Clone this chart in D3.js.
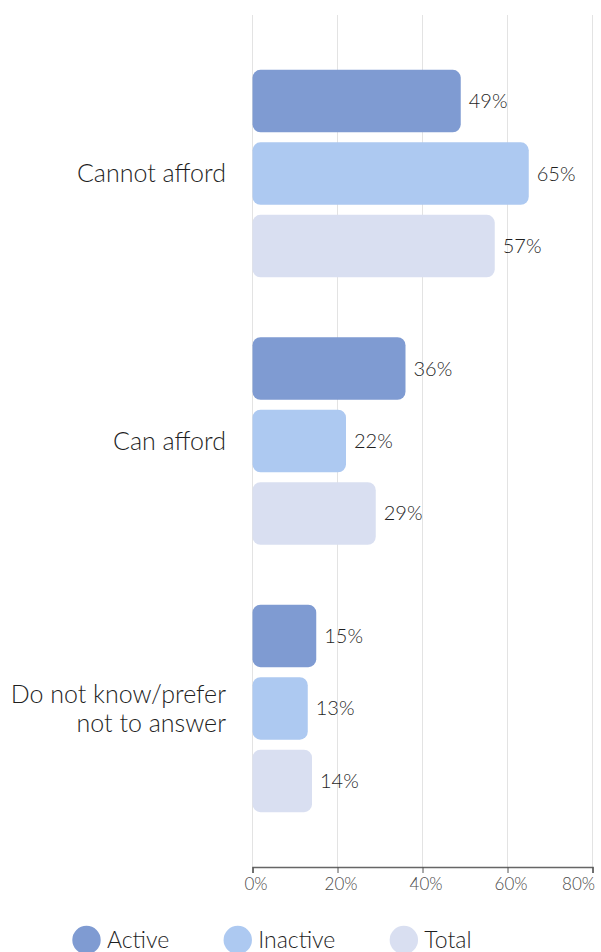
<!DOCTYPE html>
<html>
<head>
<meta charset="utf-8">
<script src="https://cdn.jsdelivr.net/npm/d3@7"></script>
<style>
  html, body { margin: 0; padding: 0; background: #ffffff; }
  svg { display: block; font-family: "Lato", "Open Sans", sans-serif; font-weight: 300; }
</style>
</head>
<body>
<svg id="chart" width="601" height="952"></svg>
<script>
// Affordability responses by activity status
const categories = ["Cannot afford", "Can afford", "Do not know/prefer not to answer"];
const categoryLines = [["Cannot afford"], ["Can afford"], ["Do not know/prefer", "not to answer"]];
const seriesNames = ["Active", "Inactive", "Total"];
const activeValues = [49, 36, 15];
const inactiveValues = [65, 22, 13];
const totalValues = [57, 29, 14];
const tickValues = [0, 20, 40, 60, 80];
const seriesColors = ["#7f9bd2", "#adc9f1", "#d9dff1"];

const seriesValues = [activeValues, inactiveValues, totalValues];
const rows = categories.map((c, i) => ({
  category: c,
  lines: categoryLines[i],
  values: seriesNames.map((s, j) => ({ series: s, value: seriesValues[j][i] }))
}));

const W = 601;
const textColor = "#1f1f1f";
const svg = d3.select("#chart");

const x = d3.scaleLinear().domain([0, 80]).range([252.5, 592.5]);
const y = d3.scaleBand().domain(categories).range([15, 867]).paddingInner(0.224).paddingOuter(0.205);
const yInner = d3.scaleBand().domain(seriesNames).range([0, y.bandwidth()]).paddingInner(0.137).paddingOuter(0);
const color = d3.scaleOrdinal().domain(seriesNames).range(seriesColors);

// vertical gridlines
svg.append("g")
  .selectAll("line")
  .data(tickValues)
  .join("line")
  .attr("x1", d => x(d)).attr("x2", d => x(d))
  .attr("y1", 15).attr("y2", 867)
  .attr("stroke", "#e3e3e3")
  .attr("stroke-width", 1);

// bottom axis
const axis = svg.append("g")
  .attr("transform", "translate(0,867)")
  .call(d3.axisBottom(x).tickValues(tickValues).tickFormat(d => d + "%").tickSize(6).tickPadding(5));
axis.select(".domain").attr("stroke", "#666").attr("stroke-width", 1.5);
axis.selectAll(".tick line").attr("stroke", "#555");
axis.selectAll(".tick text")
  .attr("fill", "#4a4a4a")
  .attr("font-size", 17)
  .attr("font-family", "Lato, sans-serif")
  .attr("font-weight", 300)
  .attr("dx", 3);
// keep the last tick label inside the canvas
axis.selectAll(".tick text").each(function() {
  const b = this.getBBox();
  const tx = +this.parentNode.getAttribute("transform").match(/translate\(([^,]+)/)[1];
  const right = tx + b.x + b.width + 3;
  if (right > W - 3) d3.select(this).attr("dx", 3 - (right - (W - 3)));
});

// bars
const groups = svg.append("g")
  .selectAll("g")
  .data(rows)
  .join("g")
  .attr("transform", d => `translate(0,${y(d.category)})`);

groups.selectAll("rect")
  .data(d => d.values)
  .join("rect")
  .attr("x", x(0))
  .attr("y", d => yInner(d.series))
  .attr("width", d => x(d.value) - x(0))
  .attr("height", yInner.bandwidth())
  .attr("rx", 8).attr("ry", 8)
  .attr("fill", d => color(d.series));

groups.selectAll("text.value")
  .data(d => d.values)
  .join("text")
  .attr("class", "value")
  .attr("x", d => x(d.value) + 8)
  .attr("y", d => yInner(d.series) + yInner.bandwidth() / 2)
  .attr("dy", "0.35em")
  .attr("font-size", 20)
  .attr("fill", textColor)
  .text(d => d.value + "%");

// category labels
const catSize = 25;
const catLabels = svg.append("g")
  .selectAll("text")
  .data(rows)
  .join("text")
  .attr("text-anchor", "end")
  .attr("x", 226)
  .attr("y", d => y(d.category) + y.bandwidth() / 2)
  .attr("font-size", catSize)
  .attr("fill", textColor);

catLabels.each(function(d) {
  const n = d.lines.length;
  const lh = 29;
  d3.select(this).selectAll("tspan")
    .data(d.lines)
    .join("tspan")
    .attr("x", 226)
    .attr("dy", (l, i) => i === 0 ? `${0.35 * catSize - (n - 1) * lh / 2}px` : `${lh}px`)
    .text(l => l);
});

// legend
const legend = svg.append("g").attr("transform", "translate(72,940)");
let lx = 0;
seriesNames.forEach(s => {
  const item = legend.append("g").attr("transform", `translate(${lx},0)`);
  item.append("circle").attr("cx", 14.5).attr("cy", 0).attr("r", 14.2).attr("fill", color(s));
  const t = item.append("text")
    .attr("x", 35)
    .attr("y", 0)
    .attr("dy", "0.35em")
    .attr("font-size", 23)
    .attr("fill", textColor)
    .text(s);
  lx += 35 + t.node().getComputedTextLength() + 54;
});
</script>
</body>
</html>
